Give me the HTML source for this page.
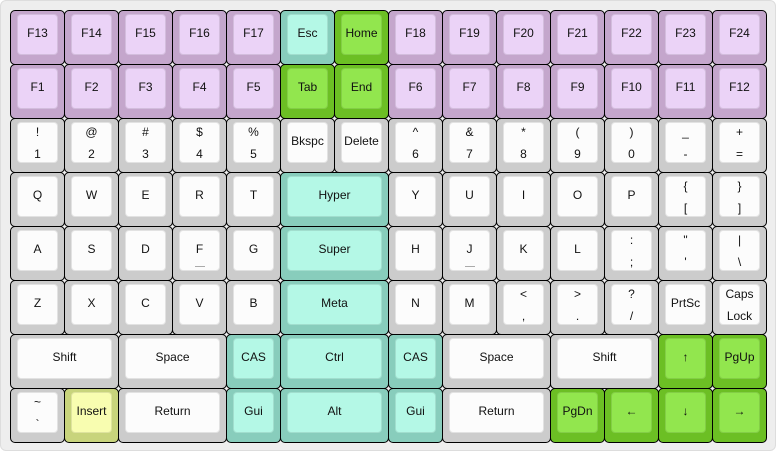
<!DOCTYPE html>
<html><head><meta charset="utf-8"><style>
*{margin:0;padding:0;box-sizing:border-box}
body{width:776px;height:452px;background:#fff;position:relative;overflow:hidden;font-family:"Liberation Sans",Arial,sans-serif;font-size:12px;color:#111}
#bg{position:absolute;left:0;top:0;width:776px;height:451px;background:#eee;border:1px solid #ddd;border-radius:6px}
.k{position:absolute;width:55px;height:55px;border:1px solid #000;border-radius:5px;background:#ccc}
.k b{position:absolute;left:6px;top:3px;right:6px;bottom:9px;border:1px solid rgba(0,0,0,0.1);border-radius:4px;background:#fcfcfc;font-weight:normal;display:flex;align-items:center;justify-content:center;text-align:center;line-height:22px;padding-bottom:3px}
.k i,.k u{position:absolute;left:0;right:0;text-align:center;font-style:normal;text-decoration:none;line-height:14px}
.k i{top:2px}.k u{top:24px}
.k s{position:absolute;left:50%;margin-left:-5px;top:35px;width:10px;height:1px;background:#aaa}
.p{background:#c4a6cc}.p b{background:#ebd3f7}
.m{background:#88cdbc}.m b{background:#b4f8e6}
.g{background:#6cbf24}.g b{background:#92e64e}
.y{background:#c8d47c}.y b{background:#f8fdb0}
.w{width:109px}
</style></head><body>
<div id="bg"></div>
<div class="k p" style="left:10px;top:10px"><b>F13</b></div>
<div class="k p" style="left:64px;top:10px"><b>F14</b></div>
<div class="k p" style="left:118px;top:10px"><b>F15</b></div>
<div class="k p" style="left:172px;top:10px"><b>F16</b></div>
<div class="k p" style="left:226px;top:10px"><b>F17</b></div>
<div class="k m" style="left:280px;top:10px"><b>Esc</b></div>
<div class="k g" style="left:334px;top:10px"><b>Home</b></div>
<div class="k p" style="left:388px;top:10px"><b>F18</b></div>
<div class="k p" style="left:442px;top:10px"><b>F19</b></div>
<div class="k p" style="left:496px;top:10px"><b>F20</b></div>
<div class="k p" style="left:550px;top:10px"><b>F21</b></div>
<div class="k p" style="left:604px;top:10px"><b>F22</b></div>
<div class="k p" style="left:658px;top:10px"><b>F23</b></div>
<div class="k p" style="left:712px;top:10px"><b>F24</b></div>
<div class="k p" style="left:10px;top:64px"><b>F1</b></div>
<div class="k p" style="left:64px;top:64px"><b>F2</b></div>
<div class="k p" style="left:118px;top:64px"><b>F3</b></div>
<div class="k p" style="left:172px;top:64px"><b>F4</b></div>
<div class="k p" style="left:226px;top:64px"><b>F5</b></div>
<div class="k g" style="left:280px;top:64px"><b>Tab</b></div>
<div class="k g" style="left:334px;top:64px"><b>End</b></div>
<div class="k p" style="left:388px;top:64px"><b>F6</b></div>
<div class="k p" style="left:442px;top:64px"><b>F7</b></div>
<div class="k p" style="left:496px;top:64px"><b>F8</b></div>
<div class="k p" style="left:550px;top:64px"><b>F9</b></div>
<div class="k p" style="left:604px;top:64px"><b>F10</b></div>
<div class="k p" style="left:658px;top:64px"><b>F11</b></div>
<div class="k p" style="left:712px;top:64px"><b>F12</b></div>
<div class="k" style="left:10px;top:118px"><b><i>!</i><u>1</u></b></div>
<div class="k" style="left:64px;top:118px"><b><i>@</i><u>2</u></b></div>
<div class="k" style="left:118px;top:118px"><b><i>#</i><u>3</u></b></div>
<div class="k" style="left:172px;top:118px"><b><i>$</i><u>4</u></b></div>
<div class="k" style="left:226px;top:118px"><b><i>%</i><u>5</u></b></div>
<div class="k" style="left:280px;top:118px"><b>Bkspc</b></div>
<div class="k" style="left:334px;top:118px"><b>Delete</b></div>
<div class="k" style="left:388px;top:118px"><b><i>^</i><u>6</u></b></div>
<div class="k" style="left:442px;top:118px"><b><i>&amp;</i><u>7</u></b></div>
<div class="k" style="left:496px;top:118px"><b><i>*</i><u>8</u></b></div>
<div class="k" style="left:550px;top:118px"><b><i>(</i><u>9</u></b></div>
<div class="k" style="left:604px;top:118px"><b><i>)</i><u>0</u></b></div>
<div class="k" style="left:658px;top:118px"><b><i>_</i><u>-</u></b></div>
<div class="k" style="left:712px;top:118px"><b><i>+</i><u>=</u></b></div>
<div class="k" style="left:10px;top:172px"><b>Q</b></div>
<div class="k" style="left:64px;top:172px"><b>W</b></div>
<div class="k" style="left:118px;top:172px"><b>E</b></div>
<div class="k" style="left:172px;top:172px"><b>R</b></div>
<div class="k" style="left:226px;top:172px"><b>T</b></div>
<div class="k m w" style="left:280px;top:172px"><b>Hyper</b></div>
<div class="k" style="left:388px;top:172px"><b>Y</b></div>
<div class="k" style="left:442px;top:172px"><b>U</b></div>
<div class="k" style="left:496px;top:172px"><b>I</b></div>
<div class="k" style="left:550px;top:172px"><b>O</b></div>
<div class="k" style="left:604px;top:172px"><b>P</b></div>
<div class="k" style="left:658px;top:172px"><b><i>{</i><u>[</u></b></div>
<div class="k" style="left:712px;top:172px"><b><i>}</i><u>]</u></b></div>
<div class="k" style="left:10px;top:226px"><b>A</b></div>
<div class="k" style="left:64px;top:226px"><b>S</b></div>
<div class="k" style="left:118px;top:226px"><b>D</b></div>
<div class="k" style="left:172px;top:226px"><b>F<s></s></b></div>
<div class="k" style="left:226px;top:226px"><b>G</b></div>
<div class="k m w" style="left:280px;top:226px"><b>Super</b></div>
<div class="k" style="left:388px;top:226px"><b>H</b></div>
<div class="k" style="left:442px;top:226px"><b>J<s></s></b></div>
<div class="k" style="left:496px;top:226px"><b>K</b></div>
<div class="k" style="left:550px;top:226px"><b>L</b></div>
<div class="k" style="left:604px;top:226px"><b><i>:</i><u>;</u></b></div>
<div class="k" style="left:658px;top:226px"><b><i>"</i><u>'</u></b></div>
<div class="k" style="left:712px;top:226px"><b><i>|</i><u>\</u></b></div>
<div class="k" style="left:10px;top:280px"><b>Z</b></div>
<div class="k" style="left:64px;top:280px"><b>X</b></div>
<div class="k" style="left:118px;top:280px"><b>C</b></div>
<div class="k" style="left:172px;top:280px"><b>V</b></div>
<div class="k" style="left:226px;top:280px"><b>B</b></div>
<div class="k m w" style="left:280px;top:280px"><b>Meta</b></div>
<div class="k" style="left:388px;top:280px"><b>N</b></div>
<div class="k" style="left:442px;top:280px"><b>M</b></div>
<div class="k" style="left:496px;top:280px"><b><i>&lt;</i><u>,</u></b></div>
<div class="k" style="left:550px;top:280px"><b><i>&gt;</i><u>.</u></b></div>
<div class="k" style="left:604px;top:280px"><b><i>?</i><u>/</u></b></div>
<div class="k" style="left:658px;top:280px"><b>PrtSc</b></div>
<div class="k" style="left:712px;top:280px"><b><i>Caps</i><u>Lock</u></b></div>
<div class="k w" style="left:10px;top:334px"><b>Shift</b></div>
<div class="k w" style="left:118px;top:334px"><b>Space</b></div>
<div class="k m" style="left:226px;top:334px"><b>CAS</b></div>
<div class="k m w" style="left:280px;top:334px"><b>Ctrl</b></div>
<div class="k m" style="left:388px;top:334px"><b>CAS</b></div>
<div class="k w" style="left:442px;top:334px"><b>Space</b></div>
<div class="k w" style="left:550px;top:334px"><b>Shift</b></div>
<div class="k g" style="left:658px;top:334px"><b>↑</b></div>
<div class="k g" style="left:712px;top:334px"><b>PgUp</b></div>
<div class="k" style="left:10px;top:388px"><b><i>~</i><u>`</u></b></div>
<div class="k y" style="left:64px;top:388px"><b>Insert</b></div>
<div class="k w" style="left:118px;top:388px"><b>Return</b></div>
<div class="k m" style="left:226px;top:388px"><b>Gui</b></div>
<div class="k m w" style="left:280px;top:388px"><b>Alt</b></div>
<div class="k m" style="left:388px;top:388px"><b>Gui</b></div>
<div class="k w" style="left:442px;top:388px"><b>Return</b></div>
<div class="k g" style="left:550px;top:388px"><b>PgDn</b></div>
<div class="k g" style="left:604px;top:388px"><b>←</b></div>
<div class="k g" style="left:658px;top:388px"><b>↓</b></div>
<div class="k g" style="left:712px;top:388px"><b>→</b></div>
</body></html>
